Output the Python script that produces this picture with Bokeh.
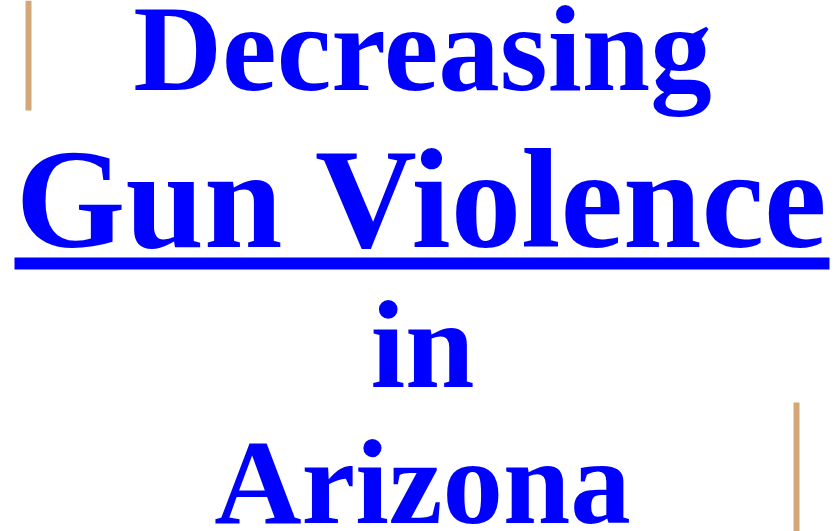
from bokeh.plotting import figure
from bokeh.models import Range1d, ColumnDataSource
from bokeh.core.properties import value
from bokeh.embed import file_html
from bokeh.resources import INLINE

# Text content of the graphic
title_lines = ["Decreasing", "Gun Violence", "in", "Arizona"]
underlined = [False, True, False, False]

# Layout (pixel coordinates, top-left origin)
line_baselines = [92, 249, 389, 525]
line_sizes_px = [123, 141, 125, 121]
center_x = 422
BASELINE_FIX = 0.36  # em correction for the renderer's alphabetic baseline

BLUE = "#0000ff"
TAN = "#d2a878"

W, H = 835, 531
p = figure(width=W, height=H, output_backend="svg", toolbar_location=None,
           x_range=Range1d(0, W), y_range=Range1d(H, 0),
           min_border=0, background_fill_color="white", border_fill_color="white")
p.axis.visible = False
p.grid.visible = False
p.outline_line_color = None

ys = [b - BASELINE_FIX * s for b, s in zip(line_baselines, line_sizes_px)]
src = ColumnDataSource(dict(x=[center_x] * len(title_lines), y=ys,
                            text=title_lines, size=[f"{s}px" for s in line_sizes_px]))
p.text(x="x", y="y", text="text", source=src, text_font=value("Liberation Serif"),
       text_font_style="bold", text_font_size="size", text_color=BLUE,
       text_align="center", text_baseline="alphabetic")

# underline under "Gun Violence"
for i, u in enumerate(underlined):
    if u:
        p.quad(left=14, right=829, top=line_baselines[i] + 8, bottom=line_baselines[i] + 20,
               fill_color=BLUE, line_color=None)

# decorative tan bars
p.quad(left=25, right=31, top=0, bottom=110, fill_color=TAN, line_color=None)
p.quad(left=793, right=799, top=402, bottom=531, fill_color=TAN, line_color=None)

open("out.html", "w").write(file_html(p, INLINE))
